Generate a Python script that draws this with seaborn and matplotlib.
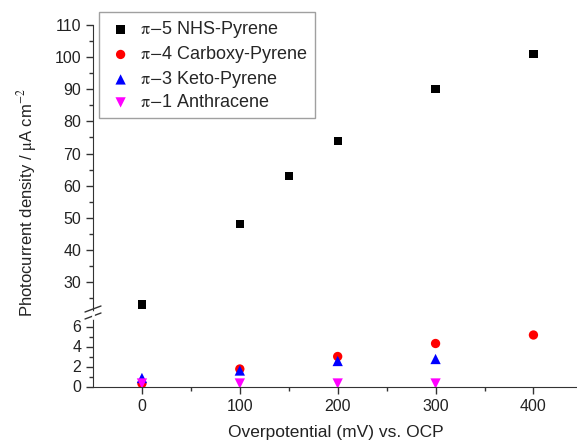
import numpy as np
import pandas as pd
import matplotlib
matplotlib.use('Agg')
import matplotlib.pyplot as plt
import seaborn as sns

# --- dados ---
potencial = [0, 100, 150, 200, 300, 400]
nhs_pyrene = [23, 48, 63, 74, 90, 101]

pot_carboxy = [0, 100, 200, 300, 400]
carboxy_pyrene = [0.3, 1.75, 3.0, 4.3, 5.15]

pot_keto = [0, 100, 200, 300]
keto_pyrene = [0.85, 1.6, 2.55, 2.75]

pot_anthr = [0, 100, 200, 300]
anthracene = [0.3, 0.3, 0.3, 0.3]

series = [
    (r'$\mathrm{\pi}$$-$5 NHS-Pyrene', potencial, nhs_pyrene, 's', 'black', 36),
    (r'$\mathrm{\pi}$$-$4 Carboxy-Pyrene', pot_carboxy, carboxy_pyrene, 'o', 'red', 45),
    (r'$\mathrm{\pi}$$-$3 Keto-Pyrene', pot_keto, keto_pyrene, '^', 'blue', 55),
    (r'$\mathrm{\pi}$$-$1 Anthracene', pot_anthr, anthracene, 'v', 'magenta', 55),
]

sns.set_style('ticks')
plt.rcParams['font.family'] = ['Liberation Sans', 'DejaVu Sans']
plt.rcParams['mathtext.fontset'] = 'stix'

W, H = 577, 446
fig = plt.figure(figsize=(W / 100, H / 100), dpi=100)

left = 93 / W
top_y0, top_y1 = 25, 312
bot_y0, bot_y1 = 318, 386.5
ax_top = fig.add_axes([left, 1 - top_y1 / H, 1 - left, (top_y1 - top_y0) / H])
ax_bot = fig.add_axes([left, 1 - bot_y1 / H, 1 - left, (bot_y1 - bot_y0) / H])

for label, x, y, m, c, s in series:
    df = pd.DataFrame({'x': x, 'y': y})
    for ax in (ax_top, ax_bot):
        sns.scatterplot(data=df, x='x', y='y', marker=m, color=c, s=s,
                        edgecolor='none', ax=ax, label=label, legend=False, zorder=3)

ax_top.set_ylim(20.7, 110)
ax_bot.set_ylim(0, 6.85)
for ax in (ax_top, ax_bot):
    ax.set_xlim(-50, 444.5)
    ax.set_xlabel('')
    ax.set_ylabel('')
    ax.spines['top'].set_visible(False)
    ax.spines['right'].set_visible(False)
    ax.patch.set_alpha(0)
    ax.tick_params(which='major', direction='out', length=5, width=1, labelsize=11.5,
                   colors='#333333', labelcolor='#222222')
    ax.tick_params(which='minor', direction='out', length=3, width=1, colors='#333333')
    for sp in ax.spines.values():
        sp.set_color('#333333')

ax_top.spines['bottom'].set_visible(False)
ax_top.tick_params(axis='x', which='both', bottom=False, labelbottom=False)
ax_top.set_yticks(np.arange(30, 111, 10))
ax_top.set_yticks(np.arange(25, 111, 5), minor=True)

ax_bot.set_yticks([0, 2, 4, 6])
ax_bot.set_yticks(np.arange(0, 7, 1), minor=True)
ax_bot.set_xticks([0, 100, 200, 300, 400])
ax_bot.set_xticks([50, 150, 250, 350], minor=True)
ax_bot.tick_params(axis='x', which='major', pad=4)

# marcas de quebra do eixo
for yy in (309, 316):
    fig.add_artist(plt.Line2D([(93 - 8) / W, (93 + 8) / W], [1 - (yy + 3) / H, 1 - (yy - 3) / H],
                              color='#333333', lw=1))
fig.add_artist(plt.Line2D([93 / W, 93 / W], [1 - 318 / H, 1 - 312 / H], color='white', lw=2))

handles, labels = ax_top.get_legend_handles_labels()
leg = ax_top.legend(handles, labels, loc='upper left', bbox_to_anchor=(6 / 489, 1 + 13 / 287),
                    borderaxespad=0, frameon=True, fancybox=False, fontsize=13,
                    handletextpad=0.3, borderpad=0.4, labelspacing=0.22, handlelength=1.6,
                    markerscale=1.0)
leg.get_frame().set_edgecolor('#888888')
leg.get_frame().set_linewidth(1)

fig.text(336 / W, 1 - 432 / H, 'Overpotential (mV) vs. OCP', ha='center', va='center', fontsize=12.5,
         color='#222222')
fig.text(27 / W, 1 - 203 / H, r'Photocurrent density / $\mathrm{\mu}$A cm$^{-2}$', rotation=90,
         ha='center', va='center', fontsize=12, color='#222222')

fig.savefig('out.png', dpi=100)
